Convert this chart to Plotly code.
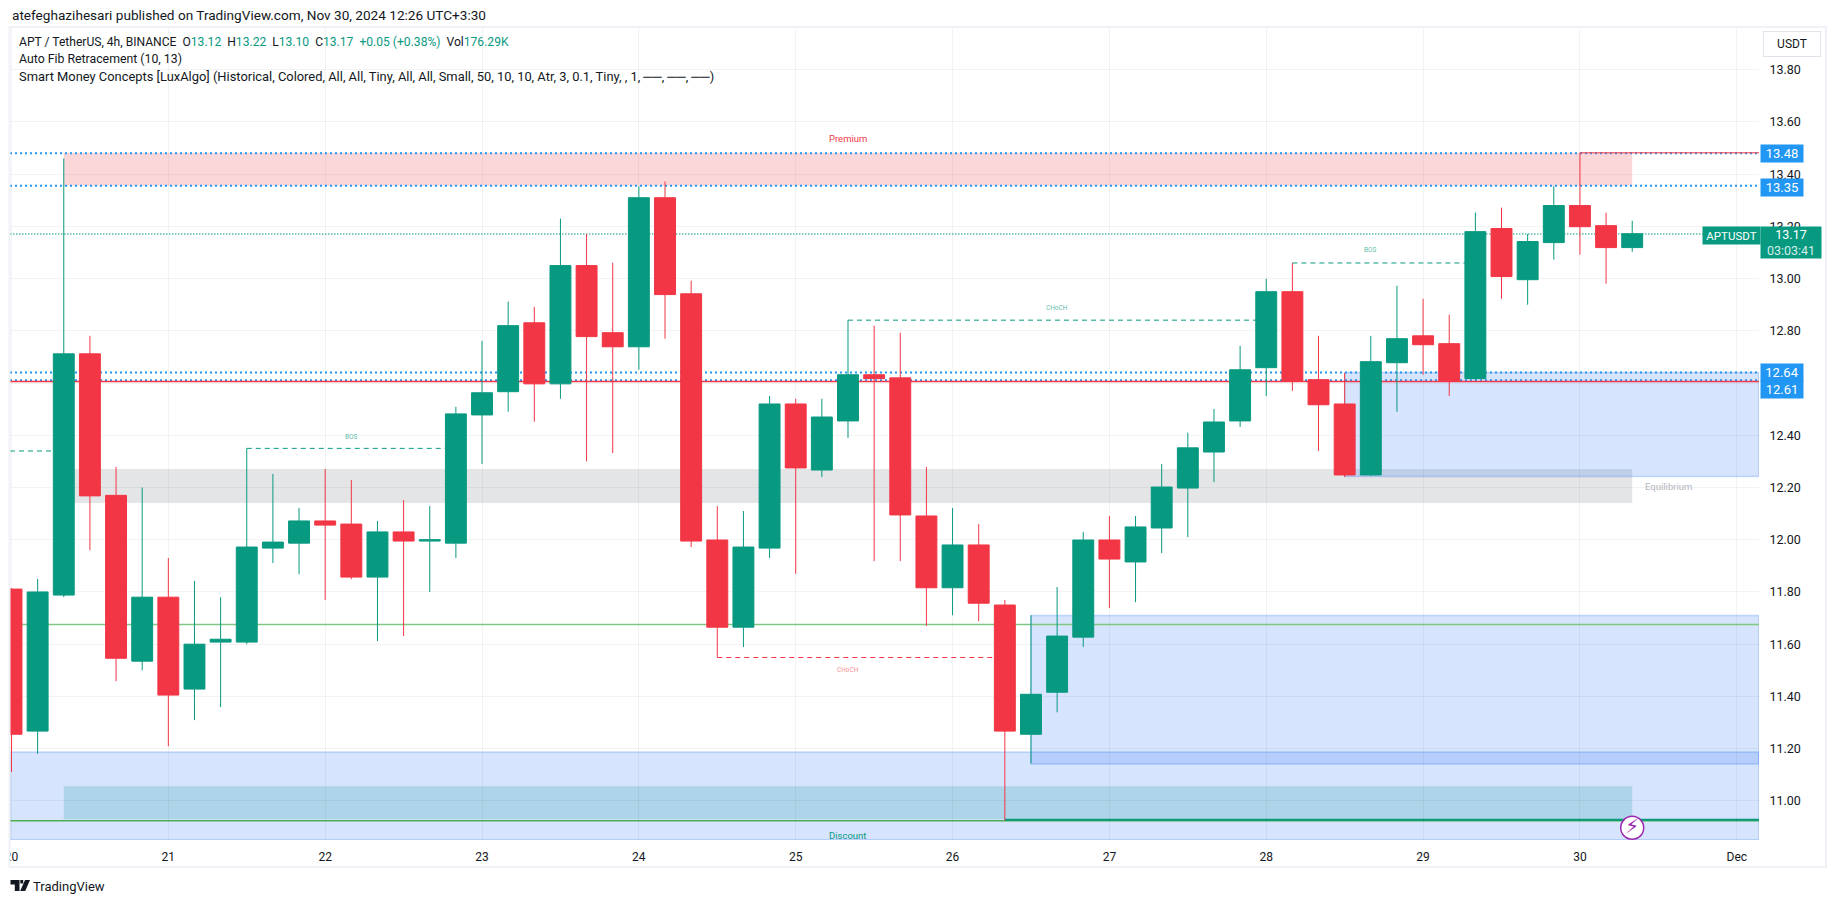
import pandas as pd
import plotly.graph_objects as go

# ---------- data ----------
opens = [11.811,11.267,11.788,12.712,12.17,11.535,11.78,11.428,11.608,11.608,11.968,11.987,12.072,12.06,11.857,12.03,11.995,
         11.987,12.478,12.567,12.831,12.597,13.05,12.793,12.739,13.31,12.942,11.999,11.665,11.968,12.52,12.267,12.455,12.632,
         12.62,12.091,11.816,11.98,11.75,11.255,11.416,11.627,11.999,11.915,12.045,12.198,12.336,12.455,12.659,12.95,12.613,
         12.52,12.248,12.678,12.781,12.751,12.617,13.192,12.996,13.138,13.28,13.203,13.119]
highs = [11.815,11.85,13.46,12.781,12.279,12.20,11.93,11.842,11.78,12.35,12.252,12.122,12.271,12.229,12.072,12.152,12.129,
         12.509,12.762,12.912,12.892,13.23,13.171,13.061,13.354,13.372,12.992,12.129,12.11,12.551,12.54,12.54,12.841,12.82,
         12.793,12.279,12.122,12.06,11.769,11.711,11.819,12.03,12.091,12.091,12.29,12.41,12.501,12.743,12.999,13.06,12.781,
         12.639,12.781,12.973,12.923,12.862,13.253,13.272,13.171,13.354,13.482,13.253,13.222]
lows = [11.11,11.18,11.78,11.96,11.458,11.50,11.209,11.309,11.359,11.60,11.911,11.868,11.769,11.849,11.612,11.631,11.80,
        11.93,12.29,12.49,12.452,12.54,12.30,12.332,12.651,12.77,11.972,11.549,11.589,11.93,11.869,12.24,12.39,11.918,
        11.918,11.67,11.711,11.688,10.925,11.143,11.339,11.589,11.738,11.761,11.949,12.01,12.221,12.432,12.551,12.57,12.34,
        12.24,12.245,12.49,12.632,12.551,12.61,12.923,12.90,13.073,13.092,12.981,13.103]
closes = [11.255,11.80,12.712,12.168,11.546,11.78,11.405,11.60,11.619,11.972,11.991,12.072,12.056,11.857,12.03,11.995,12.00,
          12.482,12.563,12.82,12.597,13.05,12.778,12.739,13.31,12.939,11.995,11.665,11.972,12.52,12.275,12.47,12.632,12.617,
          12.095,11.816,11.98,11.757,11.267,11.408,11.631,11.999,11.926,12.049,12.202,12.352,12.451,12.651,12.95,12.609,12.517,
          12.248,12.682,12.77,12.747,12.609,13.18,13.008,13.142,13.28,13.199,13.119,13.172]

y_ticks = [13.8,13.6,13.4,13.2,13.0,12.8,12.6,12.4,12.2,12.0,11.8,11.6,11.4,11.2,11.0]
y_tick_labels = ["13.80","13.60","13.40","13.20","13.00","12.80","","12.40","12.20","12.00","11.80","11.60","11.40","11.20","11.00"]
day_ticks = ["2024-11-20","2024-11-21","2024-11-22","2024-11-23","2024-11-24","2024-11-25","2024-11-26","2024-11-27",
             "2024-11-28","2024-11-29","2024-11-30","2024-12-01"]
day_labels = ["20","21","22","23","24","25","26","27","28","29","30","Dec"]

# zones: bar index start, bar index end (None = chart edge), price low, price high, fill, outline
zones = [
    (2, 62, 13.356, 13.482, "rgba(242,54,69,0.2)", None),
    (2, 62, 12.141, 12.271, "rgba(120,123,134,0.2)", None),
    (2, 62, 10.929, 11.056, "rgba(8,153,129,0.2)", None),
    (None, None, 10.85, 11.187, "rgba(49,121,245,0.2)", "rgba(49,121,245,0.25)"),
    (39, None, 11.141, 11.71, "rgba(49,121,245,0.2)", "rgba(49,121,245,0.25)"),
    (51, None, 12.242, 12.641, "rgba(49,121,245,0.2)", "rgba(49,121,245,0.25)"),
]
# levels: bar index start, bar index end, price, colour, width, dash
levels = [
    (None, None, 13.48, "#2196F3", 2, "2px,3px"),
    (None, None, 13.356, "#2196F3", 2, "2px,3px"),
    (None, None, 12.641, "#2196F3", 2, "2px,3px"),
    (None, None, 12.611, "#2196F3", 2, "2px,3px"),
    (None, None, 12.606, "#F23645", 1.5, "solid"),
    (None, None, 11.675, "#81C784", 1.5, "solid"),
    (None, None, 10.924, "#4CAF50", 1.5, "solid"),
    (38, None, 10.928, "#089981", 2, "solid"),
    (60, None, 13.482, "#F23645", 1, "solid"),
    (None, None, 13.171, "#089981", 1, "1.5px,1.5px"),
    (None, 2, 12.34, "#089981", 1, "5px,4px"),
    (9, 17, 12.35, "#089981", 1, "5px,4px"),
    (32, 48, 12.841, "#089981", 1, "5px,4px"),
    (49, 56, 13.06, "#089981", 1, "5px,4px"),
    (27, 38, 11.549, "#F23645", 1, "5px,4px"),
]
# chart notes: bar index, price, text, colour, size
notes = [
    (32, 13.538, "Premium", "#F23645", 9.5),
    (32, 10.868, "Discount", "#089981", 9.5),
    (63.4, 12.203, "Equilibrium", "#B2B5BE", 9.5),
    (13, 12.395, "BOS", "rgba(8,153,129,0.7)", 6.5),
    (52, 13.109, "BOS", "rgba(8,153,129,0.7)", 6.5),
    (40, 12.886, "CHoCH", "rgba(8,153,129,0.7)", 6.5),
    (32, 11.50, "CHoCH", "rgba(242,54,69,0.6)", 6.5),
]
# price scale labels: price, text, pixel shift
price_tags = [(13.48, "13.48", 0), (13.35, "13.35", 0), (12.64, "12.64", 0), (12.61, "12.61", -9)]
UP, DOWN, BLUE = "#089981", "#F23645", "#2196F3"
INK = "#131722"
GRID = "rgba(42,46,57,0.06)"
FONT = "Roboto, sans-serif"

# ---------- geometry ----------
W, H = 1835, 903
L, R, T, B = 10, 1759, 28, 840
times = pd.date_range("2024-11-20 00:00", periods=len(opens), freq="4h")
t0 = times[0]
def bar_time(i):
    return t0 + pd.Timedelta(hours=4 * i)
x_start, x_end = bar_time(-0.057), bar_time(66.85)
y_low, y_high = 10.85, 13.96
def xe(i, edge):
    return edge if i is None else bar_time(i)
def px(x):
    return (x - L) / (R - L)
def py(y):
    return (B - y) / (B - T)

fig = go.Figure()
fig.add_trace(go.Candlestick(
    x=times, open=opens, high=highs, low=lows, close=closes,
    increasing=dict(line=dict(color=UP, width=1), fillcolor=UP),
    decreasing=dict(line=dict(color=DOWN, width=1), fillcolor=DOWN),
    whiskerwidth=0, hoverinfo="skip"))
fig.add_trace(go.Scatter(
    x=[times[-1]], y=[10.897], mode="markers+text", text=["⚡"], textposition="middle center",
    textfont=dict(color="#9C27B0", size=20, family="DejaVu Sans"),
    marker=dict(size=23, color="white", line=dict(color="#9C27B0", width=1.5)), hoverinfo="skip"))

shapes, ann = [], []
for a, b, lo, hi, fill, edge in zones:
    shapes.append(dict(type="rect", layer="below", xref="x", yref="y", x0=xe(a, x_start), x1=xe(b, x_end), y0=lo, y1=hi,
                       fillcolor=fill, line=dict(color=edge or "rgba(0,0,0,0)", width=1.5 if edge else 0)))
for a, b, p, col, w, dash in levels:
    shapes.append(dict(type="line", layer="below", xref="x", yref="y", x0=xe(a, x_start), x1=xe(b, x_end), y0=p, y1=p,
                       line=dict(color=col, width=w, dash=dash)))
# frame and chrome, in page coordinates
shapes.append(dict(type="rect", layer="above", xref="paper", yref="paper", x0=px(0), x1=px(9.5), y0=py(866), y1=py(842),
                   fillcolor="white", line=dict(width=0)))
shapes.append(dict(type="rect", layer="above", xref="paper", yref="paper", x0=px(9.5), x1=px(1826), y0=py(867), y1=py(27),
                   fillcolor="rgba(0,0,0,0)", line=dict(color="#EFF1F6", width=2)))
def pixel_path(points):
    return "M " + " L ".join(f"{px(a):.5f},{py(b):.5f}" for a, b in points) + " Z"
for pts in ([(10.5, 880), (19.5, 880), (19.5, 891), (14.8, 891), (14.8, 884.5), (10.5, 884.5)],
            [(25, 880), (30, 880), (25.2, 891), (20.2, 891)],
            [(20.3, 880), (23.2, 880), (23.2, 883.5), (20.3, 883.5)]):
    shapes.append(dict(type="path", layer="above", xref="paper", yref="paper", path=pixel_path(pts),
                       fillcolor=INK, line=dict(width=0)))

def page_text(x, y, text, size=12, color=INK, **kw):
    ann.append(dict(xref="paper", yref="paper", x=px(x), y=py(y), text=text, showarrow=False, xanchor="left", yanchor="middle",
                    font=dict(family=FONT, size=size, color=color), align="left", **kw))

def num(s):
    return f'<span style="color:{UP}">{s}</span>'
page_text(10, 15, "atefeghazihesari published on TradingView.com, Nov 30, 2024 12:26 UTC+3:30", 13.6)
page_text(17, 41.7, "APT / TetherUS, 4h, BINANCE  O" + num("13.12") + "  H" + num("13.22") + "  L" + num("13.10") + "  C" + num("13.17")
          + "  " + num("+0.05 (+0.38%)") + "  Vol" + num("176.29K"), 12.1)
page_text(17, 59, "Auto Fib Retracement (10, 13)", 12.3)
page_text(17, 76, "Smart Money Concepts [LuxAlgo] (Historical, Colored, All, All, Tiny, All, All, Small, 50, 10, 10, Atr, 3, 0.1, Tiny, , 1, ──, ──, ──)", 12.9)
page_text(31, 886, "TradingView", 13)

for i, p, text, col, size in notes:
    ann.append(dict(xref="x", yref="y", x=bar_time(i), y=p, text=text, showarrow=False,
                    font=dict(family=FONT, size=size, color=col)))
for p, text, shift in price_tags:
    ann.append(dict(xref="paper", yref="y", x=px(1760), y=p, yshift=shift, text=text, showarrow=False, xanchor="left",
                    width=42, height=17, bgcolor=BLUE, borderpad=0, font=dict(family=FONT, size=13, color="white")))
# last-price tag
ann.append(dict(xref="paper", yref="paper", x=px(1760), y=py(226), text="13.17<br><span style='color:#D5EEE9'>03:03:41</span>",
                showarrow=False, xanchor="left", yanchor="top", width=60, height=31, bgcolor=UP, borderpad=0, align="center",
                font=dict(family=FONT, size=12.5, color="white")))
ann.append(dict(xref="paper", yref="paper", x=px(1702), y=py(226), text="APTUSDT", showarrow=False, xanchor="left", yanchor="top",
                width=57, height=17, bgcolor=UP, borderpad=0, font=dict(family=FONT, size=11.5, color="white")))
ann.append(dict(xref="paper", yref="paper", x=px(1763), y=py(31), text="USDT", showarrow=False, xanchor="left", yanchor="top",
                width=56, height=24, bgcolor="white", bordercolor="#E0E3EB", borderwidth=1, borderpad=0,
                font=dict(family=FONT, size=12, color=INK)))

fig.update_layout(
    width=W, height=H, autosize=False, margin=dict(l=L, r=W - R, t=T, b=H - B, autoexpand=False),
    paper_bgcolor="white", plot_bgcolor="white", showlegend=False, boxgap=0.2, boxgroupgap=0, hovermode=False,
    shapes=shapes, annotations=ann,
    xaxis=dict(type="date", automargin=False, range=[x_start, x_end], rangeslider=dict(visible=False), tickmode="array",
               tickvals=day_ticks, ticktext=day_labels, showgrid=True, gridcolor=GRID, gridwidth=1, zeroline=False,
               showline=False, ticks="outside", ticklen=6, tickcolor="rgba(0,0,0,0)",
               tickfont=dict(family=FONT, size=12, color=INK)),
    yaxis=dict(side="right", automargin=False, range=[y_low, y_high], tickmode="array", tickvals=y_ticks, ticktext=y_tick_labels,
               showgrid=True, gridcolor=GRID, gridwidth=1, zeroline=False, showline=False,
               ticks="outside", ticklen=7, tickcolor="rgba(0,0,0,0)",
               tickfont=dict(family=FONT, size=12.5, color=INK)),
)
fig.write_html("out.html", config={"displayModeBar": False},
               post_script="document.body.style.margin='0';document.documentElement.style.overflow='hidden';")
